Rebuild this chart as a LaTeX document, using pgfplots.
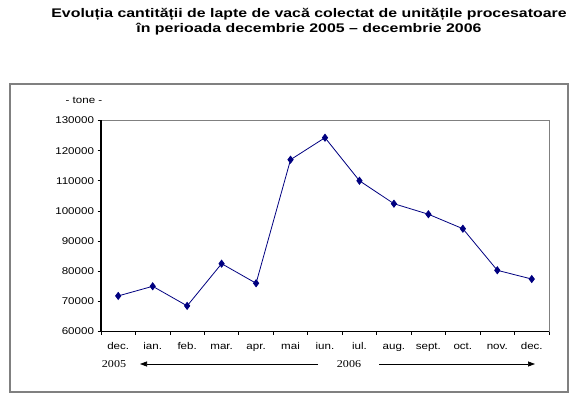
\documentclass[border=0pt]{standalone}
\usepackage{fontspec}
\setmainfont{Liberation Sans}[FakeStretch=1.18]
\newfontfamily\titlefont{Liberation Sans}[FakeStretch=1.27]
\newfontfamily\seriffont{Liberation Serif}[FakeStretch=1.15]
\usepackage{pgfplots}
\pgfplotsset{compat=1.18}
\usetikzlibrary{arrows.meta}
\definecolor{navy}{RGB}{0,0,128}
\definecolor{framegray}{RGB}{128,128,128}
\begin{document}
\begin{tikzpicture}[x=1pt,y=1pt]
\useasboundingbox (0,0) rectangle (576,396);
\draw[framegray, line width=1.3pt] (10,4) rectangle (568,312);
\node[font=\titlefont\bfseries\fontsize{12.5}{15}\selectfont, align=center] at (309,374.5)
  {Evoluția cantității de lapte de vacă colectat de unitățile procesatoare\\în perioada decembrie 2005 – decembrie 2006};
\node[font=\fontsize{9.8}{11}\selectfont] at (84,296) {- tone -};
\node[font=\seriffont\fontsize{10.5}{12}\selectfont] at (114,32) {2005};
\node[font=\seriffont\fontsize{10.5}{12}\selectfont] at (349,32) {2006};
\draw[-{Triangle[length=7pt,width=5pt]}, line width=0.7pt] (318,32) -- (140,32);
\draw[-{Triangle[length=7pt,width=5pt]}, line width=0.7pt] (379,32) -- (535,32);
\begin{axis}[
  at={(101pt,64.5pt)}, anchor=south west,
  scale only axis, width=448pt, height=211pt,
  xmin=-0.5, xmax=12.5, ymin=60000, ymax=130000,
  xtick={0,...,12},
  xticklabels={dec.,ian.,feb.,mar.,apr.,mai,iun.,iul.,aug.,sept.,oct.,nov.,dec.},
  minor xtick={-0.5,0.5,...,12.5},
  ytick={60000,70000,...,130000},
  scaled y ticks=false,
  yticklabel style={/pgf/number format/.cd, fixed, precision=0, 1000 sep={}, assume math mode=true},
  tick align=outside, xtick pos=bottom, ytick pos=left,
  major tick length=3.5pt, minor tick length=3.5pt,
  major x tick style={draw=none},
  tick style={black, line width=0.8pt},
  minor tick style={black, line width=0.8pt},
  axis line style={framegray, line width=1pt},
  ticklabel style={font=\fontsize{9.8}{11}\selectfont},
  xticklabel style={yshift=-3pt, text height=1.6ex, text depth=0.3ex},
  clip=false,
]
\draw[black, line width=1pt] (rel axis cs:0,1) -- (rel axis cs:0,0) -- (rel axis cs:1,0);
\addplot[navy, line width=0.8pt, mark=diamond*, mark size=3.5pt, mark options={fill=navy}]
  coordinates {(0,71800) (1,75000) (2,68500) (3,82500) (4,76000) (5,117000) (6,124300)
  (7,110000) (8,102400) (9,98900) (10,94100) (11,80300) (12,77400)};
\end{axis}
\end{tikzpicture}
\end{document}
